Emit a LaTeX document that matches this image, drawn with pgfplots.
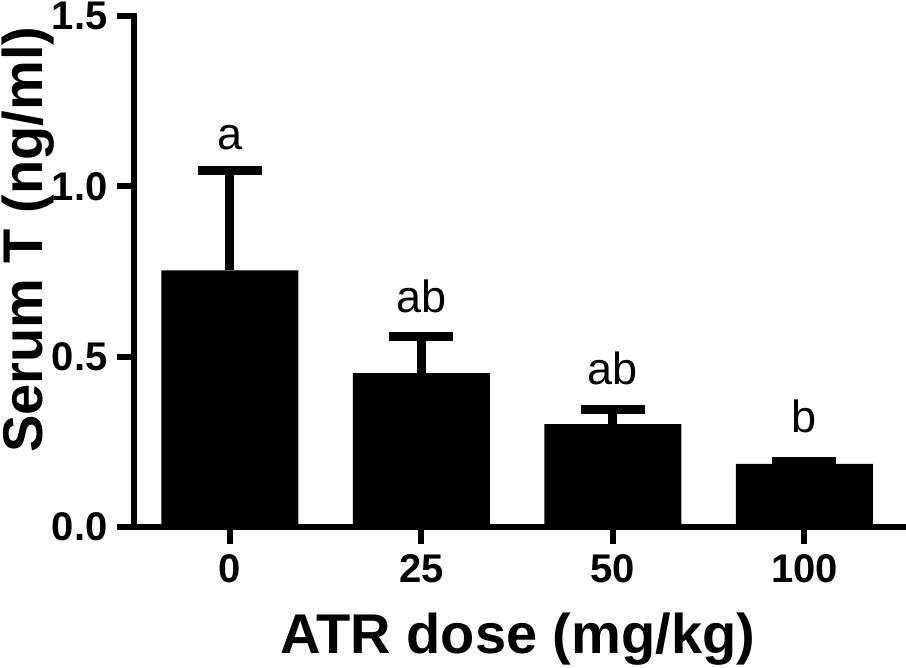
\documentclass[border=0pt]{standalone}
\usepackage{fontspec}
\setmainfont{Liberation Sans}
\usepackage{pgfplots}
\pgfplotsset{compat=1.18}
\begin{document}
\begin{tikzpicture}[x=1pt,y=1pt]
\begin{axis}[
  at={(134pt,141pt)}, anchor=south west,
  scale only axis, width=772pt, height=511pt,
  xmin=-0.5, xmax=3.53, ymin=0, ymax=1.5,
  axis x line*=bottom, axis y line*=left,
  axis line style={line width=6pt, line cap=rect, black},
  ytick={0,0.5,1,1.5}, xtick={0,1,2,3}, xticklabels={0,25,50,100},
  /pgf/number format/assume math mode=true,
  y tick label style={xshift=-6pt, /pgf/number format/.cd, fixed, fixed zerofill, precision=1},
  x tick label style={yshift=-7pt},
  tick label style={font=\fontsize{40}{40}\selectfont\bfseries},
  tick style={line width=6pt, black}, major tick length=17pt, tick align=outside,
  xlabel={ATR dose (mg/kg)}, ylabel={Serum T (ng/ml)},
  label style={font=\fontsize{56}{56}\selectfont\bfseries},
  xlabel style={at={(axis description cs:0.497,-0.2466)}, anchor=base},
  ylabel style={at={(axis description cs:-0.1179,0.562)}, anchor=base},
  clip=false,
]
\addplot[ybar, bar width=137pt, fill=black, draw=none,
  error bars/.cd, y dir=plus, y explicit, error mark=|,
  error bar style={line width=9pt, black},
  error mark options={mark size=32pt, line width=9pt, black}]
  coordinates {(0,0.753) +- (0,0.293) (1,0.452) +- (0,0.107) (2,0.302) +- (0,0.044) (3,0.185) +- (0,0.0075)};
\node[anchor=base, font=\fontsize{45}{45}\selectfont] at (axis cs:0,1.107) {a};
\node[anchor=base, font=\fontsize{45}{45}\selectfont] at (axis cs:1,0.631) {ab};
\node[anchor=base, font=\fontsize{45}{45}\selectfont] at (axis cs:2,0.417) {ab};
\node[anchor=base, font=\fontsize{45}{45}\selectfont] at (axis cs:3,0.276) {b};
\end{axis}
\pgfresetboundingbox
\path[use as bounding box] (0,0) rectangle (906,668);
\end{tikzpicture}
\end{document}
